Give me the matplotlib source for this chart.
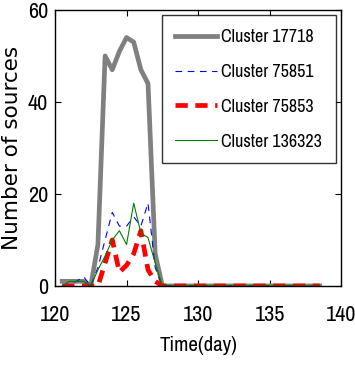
import numpy as np
import matplotlib
matplotlib.use("Agg")
import matplotlib.pyplot as plt

# days sampled every half day
days = [120.5, 121, 121.5, 122, 122.5, 123, 123.5, 124, 124.5, 125, 125.5,
        126, 126.5, 127, 127.5, 128, 128.5, 129, 129.5, 130, 130.5, 131,
        131.5, 132, 132.5, 133, 133.5, 134, 134.5, 135, 135.5, 136, 136.5,
        137, 137.5, 138, 138.5]
tail = [0] * 22  # 128 .. 138.5

c17718 = [1, 1, 1, 1, 0, 9, 50, 47, 51, 54, 53, 47, 44, 7, 0] + tail
c75851 = [0, 0.5, 1, 2, 0, 4, 10, 16, 13, 13, 15, 13, 18, 4, 0] + tail
c75853 = [0, 0, 0, 0, 0, 0, 5, 10, 3, 4.5, 7, 12, 3.5, 1, 0] + tail
c136323 = [0, 1, 1, 1, 0, 3.5, 6.5, 10, 12, 9, 18, 11.5, 10.5, 5, 0] + tail

labels = ["Cluster 17718", "Cluster 75851", "Cluster 75853", "Cluster 136323"]
xticks = [120, 125, 130, 135, 140]
yticks = [0, 20, 40, 60]

narrow = ["Liberation Sans Narrow", "Archivo Narrow", "PT Sans Narrow",
          "Roboto Condensed", "Pragati Narrow", "Liberation Sans", "DejaVu Sans"]

fig = plt.figure(figsize=(3.55, 3.68), dpi=100)
ax = fig.add_axes([0.155, 0.223, 0.806, 0.75])

ax.plot(days, c17718, color="#808080", lw=3.4, label=labels[0])
ax.plot(days, c75851, color="blue", lw=0.8, ls=(0, (6, 5)), label=labels[1])
ax.plot(days, c75853, color="red", lw=3.4, ls=(0, (2.6, 1.6)), label=labels[2])
ax.plot(days, c136323, color="green", lw=0.8, label=labels[3])

ax.set_xlim(120, 140)
ax.set_ylim(0, 60)
ax.set_xticks(xticks)
ax.set_yticks(yticks)
ax.tick_params(direction="in", top=True, right=True, length=4, width=0.8)
ax.tick_params(axis="x", pad=14)
ax.tick_params(axis="y", pad=5)
for lab in ax.get_xticklabels() + ax.get_yticklabels():
    lab.set_family(narrow)
    lab.set_fontsize(16)
for sp in ax.spines.values():
    sp.set_linewidth(1.0)

ax.set_xlabel("Time(day)", family=narrow, fontsize=15, labelpad=8)
ax.set_ylabel("Number of sources", family=["DejaVu Sans"],
              fontsize=15.5, labelpad=4)

leg = ax.legend(loc="upper right", prop={"family": narrow, "size": 13},
                frameon=True, fancybox=False, edgecolor="black",
                handlelength=2.3, handletextpad=0.25, borderpad=0.75,
                labelspacing=1.05, borderaxespad=0.3)
leg.get_frame().set_linewidth(1.0)

fig.savefig("out.png", dpi=100)
